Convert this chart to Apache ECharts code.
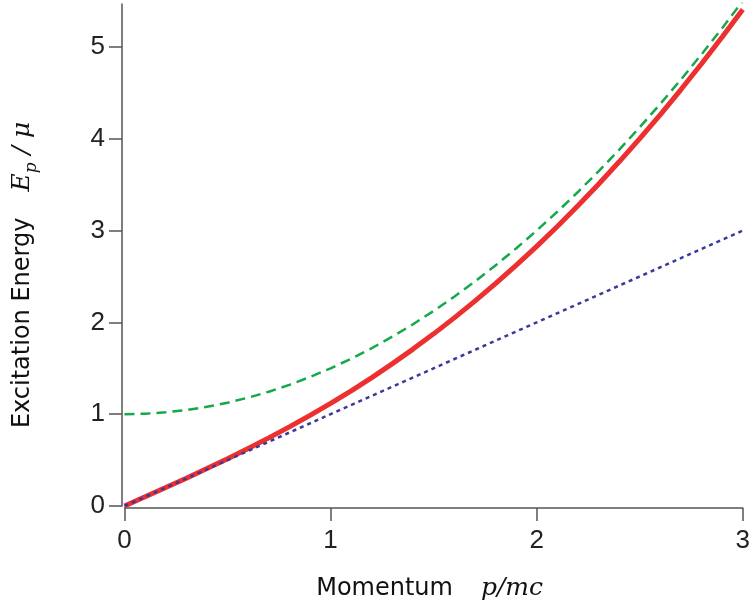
<!DOCTYPE html>
<html>
<head>
<meta charset="utf-8">
<script src="https://cdn.jsdelivr.net/npm/echarts@6/dist/echarts.min.js"></script>
<style>
  html, body { margin: 0; padding: 0; background: #fff; }
  #chart { width: 753px; height: 610px; }
</style>
</head>
<body>
<div id="chart"></div>
<script>
// Momentum p/mc sample points
var momentum = [0, 0.1, 0.2, 0.3, 0.4, 0.5, 0.6, 0.7, 0.8, 0.9, 1.0,
  1.1, 1.2, 1.3, 1.4, 1.5, 1.6, 1.7, 1.8, 1.9, 2.0,
  2.1, 2.2, 2.3, 2.4, 2.5, 2.6, 2.7, 2.8, 2.9, 3.0];
// Red solid curve (excitation energy)
var excitation = [0, 0.100, 0.201, 0.303, 0.408, 0.515, 0.626, 0.742, 0.862, 0.987, 1.118,
  1.255, 1.399, 1.551, 1.709, 1.875, 2.049, 2.231, 2.422, 2.621, 2.828,
  3.045, 3.271, 3.505, 3.749, 4.002, 4.264, 4.536, 4.817, 5.108, 5.408];
// Green dashed curve (free particle)
var freeParticle = [1.000, 1.005, 1.020, 1.045, 1.080, 1.125, 1.180, 1.245, 1.320, 1.405, 1.500,
  1.605, 1.720, 1.845, 1.980, 2.125, 2.280, 2.445, 2.620, 2.805, 3.000,
  3.205, 3.420, 3.645, 3.880, 4.125, 4.380, 4.645, 4.920, 5.205, 5.500];
// Blue dotted line (phonon)
var phononP = [0, 3];
var phononE = [0, 3];
var xTicks = [0, 1, 2, 3];
var yTicks = [0, 1, 2, 3, 4, 5];

function pairs(xs, ys) {
  return xs.map(function (x, i) { return [x, ys[i]]; });
}

var axisColor = '#555555';
var chart = echarts.init(document.getElementById('chart'), null, { renderer: 'canvas' });
chart.setOption({
  animation: false,
  backgroundColor: '#ffffff',
  grid: { left: 124.5, right: 7, top: 4, bottom: 104, containLabel: false },
  xAxis: {
    type: 'value', min: 0, max: 3, interval: 1, offset: 2,
    axisLine: { show: true, onZero: false, lineStyle: { color: axisColor, width: 1.5 } },
    axisTick: { show: true, length: 13, lineStyle: { color: axisColor, width: 1.5 } },
    axisLabel: {
      margin: 20,
      fontFamily: 'Liberation Sans', fontSize: 26, color: '#222222',
      formatter: function (v) { return xTicks.indexOf(v) >= 0 ? String(v) : ''; }
    },
    splitLine: { show: false },
    name: '{a|Momentum}{g|}{b|p/mc}',
    nameLocation: 'middle', nameGap: 68,
    nameTextStyle: {
      padding: [0, 8, 0, 0],
      rich: {
        a: { fontFamily: 'DejaVu Sans', fontSize: 24, color: '#111' },
        g: { width: 28 },
        b: { fontFamily: 'DejaVu Serif', fontStyle: 'italic', fontSize: 25, color: '#111' }
      }
    }
  },
  yAxis: {
    type: 'value', min: 0, max: 5.468, interval: 1, offset: 2.5,
    axisLine: { show: true, onZero: false, lineStyle: { color: axisColor, width: 1.5 } },
    axisTick: { show: true, length: 13, lineStyle: { color: axisColor, width: 1.5 }, customValues: yTicks },
    axisLabel: {
      margin: 17, showMaxLabel: false,
      fontFamily: 'Liberation Sans', fontSize: 26, color: '#222222',
      formatter: function (v) { return yTicks.indexOf(v) >= 0 ? String(v) : ''; }
    },
    splitLine: { show: false },
    name: '{a|Excitation Energy}{g|}{e|E}{s|p}{b| / μ}',
    nameLocation: 'middle', nameRotate: 90, nameGap: 82,
    nameTextStyle: {
      padding: [0, 40, 0, 0],
      rich: {
        a: { fontFamily: 'DejaVu Sans', fontSize: 24, color: '#111' },
        g: { width: 26 },
        e: { fontFamily: 'DejaVu Serif', fontStyle: 'italic', fontSize: 25, color: '#111' },
        s: { fontFamily: 'DejaVu Serif', fontStyle: 'italic', fontSize: 17, color: '#111', padding: [18, 0, 0, 0] },
        b: { fontFamily: 'DejaVu Serif', fontStyle: 'italic', fontSize: 25, color: '#111' }
      }
    }
  },
  series: [
    {
      type: 'line', name: 'free', data: pairs(momentum, freeParticle), showSymbol: false, symbol: 'none',
      lineStyle: { color: '#16a84c', width: 2.5, type: [10, 6] }, z: 2
    },
    {
      type: 'line', name: 'excitation', data: pairs(momentum, excitation), showSymbol: false, symbol: 'none',
      smooth: false, lineStyle: { color: '#ec3030', width: 5 }, z: 3
    },
    {
      type: 'line', name: 'phonon', data: pairs(phononP, phononE), showSymbol: false, symbol: 'none',
      lineStyle: { color: '#3a3a9c', width: 2.5, type: [4, 4] }, z: 4
    }
  ]
});
</script>
</body>
</html>
